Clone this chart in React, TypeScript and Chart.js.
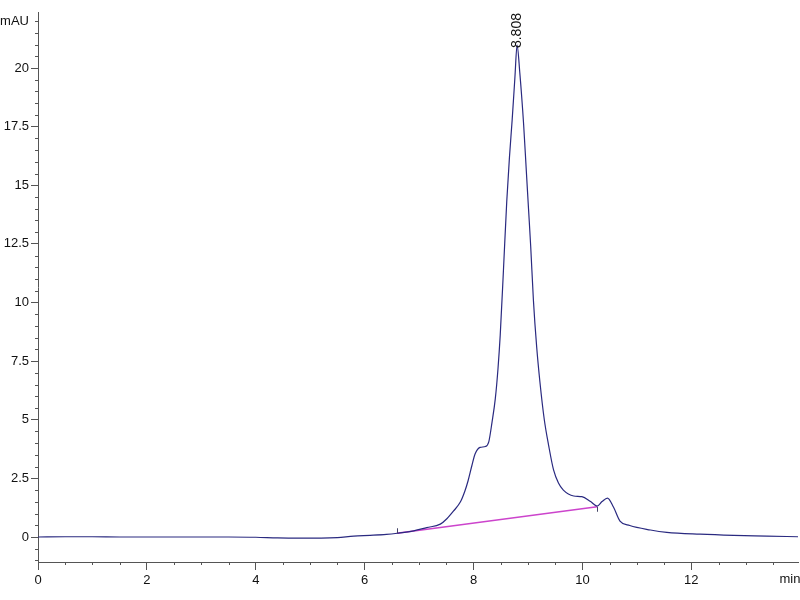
import React, { useEffect, useRef } from "react";
import { Chart, registerables } from "chart.js";

Chart.register(...registerables);

// Retention time (min) and absorbance (mAU)
const times = [0, 0.5, 1, 1.5, 2, 2.5, 3, 3.5, 4, 4.4, 4.8, 5.2, 5.5, 5.8, 6.1, 6.4, 6.6, 6.9, 7.14, 7.39, 7.51, 7.63, 7.76, 7.84, 7.9, 7.97, 8.03, 8.12, 8.22, 8.28, 8.34, 8.4, 8.45, 8.49, 8.55, 8.61, 8.66, 8.71, 8.76, 8.8, 8.85, 8.92, 8.97, 9.01, 9.05, 9.1, 9.16, 9.22, 9.3, 9.38, 9.47, 9.56, 9.65, 9.84, 9.99, 10.15, 10.27, 10.36, 10.46, 10.57, 10.69, 10.87, 11.25, 11.55, 12.16, 12.78, 13.39, 13.96];
const signal = [0, 0.01, 0.01, 0, 0, 0, 0, 0, -0.01, -0.04, -0.05, -0.05, -0.03, 0.04, 0.07, 0.11, 0.16, 0.26, 0.4, 0.55, 0.78, 1.1, 1.5, 1.95, 2.4, 3.05, 3.55, 3.82, 3.86, 4.06, 4.9, 5.9, 7.2, 8.6, 11.4, 14.3, 16.2, 17.8, 19.6, 20.98, 19.8, 17.6, 15.6, 14.0, 12.4, 10.1, 8.1, 6.6, 5.0, 3.9, 2.86, 2.3, 2.0, 1.75, 1.72, 1.51, 1.32, 1.51, 1.66, 1.28, 0.68, 0.49, 0.3, 0.2, 0.12, 0.07, 0.04, 0.01];

// Integration baseline
const baselineTimes = [6.59, 10.27];
const baselineValues = [0.16, 1.29];

// Peak annotation
const peakTime = 8.808;
const peakValue = 20.98;
const peakLabel = "8.808";

// Axes
const xMajorTicks = [0, 2, 4, 6, 8, 10, 12];
const xTickLabels = ["0", "2", "4", "6", "8", "10", "12"];
const yMajorTicks = [0, 2.5, 5, 7.5, 10, 12.5, 15, 17.5, 20];
const yTickLabels = ["0", "2.5", "5", "7.5", "10", "12.5", "15", "17.5", "20"];
const yUnitTick = 22;
const yUnitLabel = "mAU";
const xUnitLabel = "min";

const X_MIN = 0;
const X_MAX = 13.96;
const Y_MIN = -1.066;
const Y_MAX = 22.39;
const MINOR_STEP = 0.5;

const FONT = "'Liberation Sans', Arial, sans-serif";
const AXIS_COLOR = "#555555";
const TEXT_COLOR = "#111111";

function minorValues(min: number, max: number): number[] {
  const out: number[] = [];
  const start = Math.ceil(min / MINOR_STEP);
  const end = Math.floor(max / MINOR_STEP);
  for (let i = start; i <= end; i++) out.push(+(i * MINOR_STEP).toFixed(3));
  return out;
}

const isMajor = (list: number[], v: number) => list.some((m) => Math.abs(m - v) < 1e-6);

export default function App() {
  const canvasRef = useRef<HTMLCanvasElement | null>(null);

  useEffect(() => {
    document.body.style.margin = "0";
    const canvas = canvasRef.current;
    if (!canvas) return;

    const extras = {
      id: "extras",
      afterDraw(chart: any) {
        const { ctx, scales, chartArea } = chart;
        const xs = scales.x;
        const ys = scales.y;
        ctx.save();
        ctx.strokeStyle = AXIS_COLOR;
        ctx.lineWidth = 1;
        // minor ticks on x
        minorValues(X_MIN, X_MAX).forEach((v) => {
          if (isMajor(xMajorTicks, v)) return;
          const px = Math.round(xs.getPixelForValue(v)) + 0.5;
          ctx.beginPath();
          ctx.moveTo(px, chartArea.bottom);
          ctx.lineTo(px, chartArea.bottom + 3);
          ctx.stroke();
        });
        // minor ticks on y
        minorValues(Y_MIN, Y_MAX).forEach((v) => {
          if (isMajor(yMajorTicks, v)) return;
          const py = Math.round(ys.getPixelForValue(v)) + 0.5;
          ctx.beginPath();
          ctx.moveTo(chartArea.left - 3, py);
          ctx.lineTo(chartArea.left, py);
          ctx.stroke();
        });
        // baseline end marks
        ctx.strokeStyle = "#444466";
        const b0x = xs.getPixelForValue(baselineTimes[0]);
        const b0y = ys.getPixelForValue(baselineValues[0]);
        ctx.beginPath();
        ctx.moveTo(Math.round(b0x) + 0.5, b0y);
        ctx.lineTo(Math.round(b0x) + 0.5, b0y - 5);
        ctx.stroke();
        const b1x = xs.getPixelForValue(baselineTimes[1]);
        const b1y = ys.getPixelForValue(baselineValues[1]);
        ctx.beginPath();
        ctx.moveTo(Math.round(b1x) + 0.5, b1y);
        ctx.lineTo(Math.round(b1x) + 0.5, b1y + 5);
        ctx.stroke();
        // peak label
        ctx.fillStyle = TEXT_COLOR;
        ctx.font = "14px 'Liberation Sans', Arial, sans-serif";
        const px = xs.getPixelForValue(peakTime);
        const py = ys.getPixelForValue(peakValue);
        ctx.translate(px, py + 3);
        ctx.rotate(-Math.PI / 2);
        ctx.textAlign = "left";
        ctx.textBaseline = "middle";
        ctx.fillText(peakLabel, 0, 0);
        ctx.restore();
        // x unit label
        ctx.save();
        ctx.fillStyle = TEXT_COLOR;
        ctx.font = `13px ${FONT}`;
        ctx.textAlign = "center";
        ctx.textBaseline = "top";
        ctx.fillText(xUnitLabel, 790, chartArea.bottom + 11);
        ctx.restore();
      },
    };

    const chart = new Chart(canvas, {
      type: "line",
      data: {
        datasets: [
          {
            label: "signal",
            data: times.map((t, i) => ({ x: t, y: signal[i] })),
            borderColor: "#2a2a80",
            borderWidth: 1.2,
            pointRadius: 0,
            cubicInterpolationMode: "monotone",
            fill: false,
          },
          {
            label: "baseline",
            data: baselineTimes.map((t, i) => ({ x: t, y: baselineValues[i] })),
            borderColor: "#cc44cc",
            borderWidth: 1.5,
            pointRadius: 0,
            fill: false,
          },
        ],
      },
      options: {
        responsive: false,
        animation: false,
        layout: { padding: { top: 12, right: 2, left: 0, bottom: 0 } },
        plugins: { legend: { display: false }, tooltip: { enabled: false } },
        scales: {
          x: {
            type: "linear",
            min: X_MIN,
            max: X_MAX,
            afterBuildTicks: (scale: any) => {
              scale.ticks = xMajorTicks.map((v) => ({ value: v }));
            },
            afterFit: (scale: any) => {
              scale.height = 38;
            },
            ticks: {
              autoSkip: false,
              maxRotation: 0,
              padding: 3,
              color: TEXT_COLOR,
              font: { family: FONT, size: 13 },
              callback: (v: any) => {
                const i = xMajorTicks.findIndex((m) => Math.abs(m - v) < 1e-6);
                return i >= 0 ? xTickLabels[i] : "";
              },
            },
            grid: {
              display: true,
              drawOnChartArea: false,
              drawTicks: true,
              tickLength: 8,
              tickColor: AXIS_COLOR,
            },
            border: { display: true, color: AXIS_COLOR },
          },
          y: {
            type: "linear",
            min: Y_MIN,
            max: Y_MAX,
            afterBuildTicks: (scale: any) => {
              scale.ticks = [...yMajorTicks, yUnitTick].map((v) => ({ value: v }));
            },
            afterFit: (scale: any) => {
              scale.width = 38;
            },
            ticks: {
              autoSkip: false,
              padding: 2,
              color: TEXT_COLOR,
              font: { family: FONT, size: 13 },
              callback: (v: any) => {
                if (Math.abs(v - yUnitTick) < 1e-6) return yUnitLabel;
                const i = yMajorTicks.findIndex((m) => Math.abs(m - v) < 1e-6);
                return i >= 0 ? yTickLabels[i] : "";
              },
            },
            grid: {
              display: true,
              drawOnChartArea: false,
              drawTicks: true,
              tickLength: 7,
              tickColor: (c: any) =>
                c.tick && Math.abs(c.tick.value - yUnitTick) < 1e-6 ? "transparent" : AXIS_COLOR,
            },
            border: { display: true, color: AXIS_COLOR },
          },
        },
      },
      plugins: [extras],
    } as any);

    return () => chart.destroy();
  }, []);

  return (
    <div style={{ width: 800, height: 600, background: "#ffffff" }}>
      <canvas ref={canvasRef} width={800} height={600} />
    </div>
  );
}
